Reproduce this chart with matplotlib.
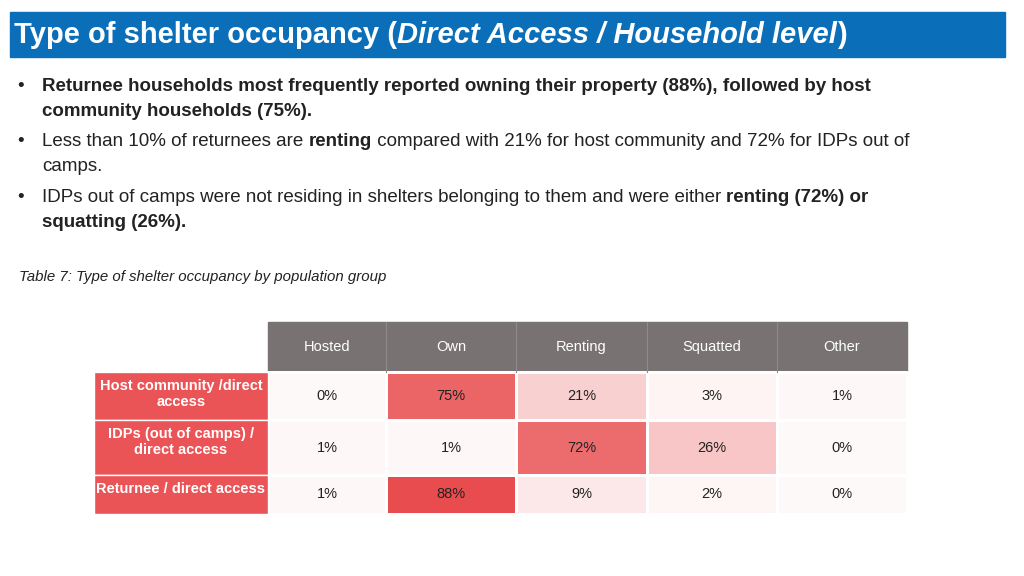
import numpy as np
import matplotlib.pyplot as plt
from matplotlib.colors import LinearSegmentedColormap

columns = ["Hosted", "Own", "Renting", "Squatted", "Other"]
rows = ["Host community /direct\naccess", "IDPs (out of camps) /\ndirect access", "Returnee / direct access"]
values = np.array([[0, 75, 21, 3, 1],
                   [1, 1, 72, 26, 0],
                   [1, 88, 9, 2, 0]])

col_edges = [268, 386, 516, 647, 777, 907]
row_edges = [372, 420, 475, 514]

bullets = [
    [[("Returnee households most frequently reported owning their property (88%), followed by host", True)],
     [("community households (75%).", True)]],
    [[("Less than 10% of returnees are ", False), ("renting", True),
      (" compared with 21% for host community and 72% for IDPs out of", False)],
     [("camps.", False)]],
    [[("IDPs out of camps were not residing in shelters belonging to them and were either ", False),
      ("renting (72%) or", True)],
     [("squatting (26%).", True)]],
]
bullet_y = [86, 141, 197]

fig = plt.figure(figsize=(10.24, 5.76), dpi=100)
ax = fig.add_axes([0, 0, 1, 1])
ax.set_xlim(0, 1024)
ax.set_ylim(576, 0)
ax.axis("off")
fs = "Liberation Sans"

# title bar
ax.add_patch(plt.Rectangle((10, 12), 995, 45, color="#0A6EB8"))
t = ax.text(14, 43, "Type of shelter occupancy (", color="white", fontsize=21,
            fontweight="bold", va="baseline", family=fs)
fig.canvas.draw()
r = fig.canvas.get_renderer()
inv = ax.transData.inverted()

def right_of(txt):
    bb = txt.get_window_extent(r)
    return inv.transform((bb.x1, bb.y0))[0]

x = right_of(t)
t = ax.text(x, 43, "Direct Access / Household level", color="white", fontsize=21,
            fontweight="bold", style="italic", va="baseline", family=fs)
ax.text(right_of(t), 43, ")", color="white", fontsize=21, fontweight="bold",
        va="baseline", family=fs)

for lines, y0 in zip(bullets, bullet_y):
    ax.text(17, y0 + 5, "•", fontsize=13.5, va="baseline", family=fs, color="#222222")
    for li, segs in enumerate(lines):
        x = 42
        for s, b in segs:
            t = ax.text(x, y0 + 5 + li * 25, s, fontsize=13.5, va="baseline", family=fs,
                        fontweight="bold" if b else "normal", color="#222222")
            x = right_of(t)

ax.text(19, 277, "Table 7: Type of shelter occupancy by population group", fontsize=10.8,
        style="italic", va="center", family=fs, color="#222222")

# header
ax.add_patch(plt.Rectangle((268, 322), 639, 50, color="#787372"))
for i, c in enumerate(columns):
    ax.text((col_edges[i] + col_edges[i + 1]) / 2, 347, c, color="white", fontsize=10.5,
            ha="center", va="center", family=fs)
    if i:
        ax.plot([col_edges[i]] * 2, [322, 372], color="#8e8a89", lw=0.8)

cmap = LinearSegmentedColormap.from_list("r", ["#FFFFFF", "#E84C4E"])
ax.pcolormesh(col_edges, row_edges, values, cmap=cmap, vmin=-3, vmax=88,
              edgecolor="white", linewidth=1)
for i in range(3):
    cy = (row_edges[i] + row_edges[i + 1]) / 2
    for j in range(5):
        ax.text((col_edges[j] + col_edges[j + 1]) / 2, cy, f"{values[i, j]}%",
                fontsize=10.5, ha="center", va="center", family=fs, color="#222222")
    ax.add_patch(plt.Rectangle((94, row_edges[i]), 174, row_edges[i + 1] - row_edges[i],
                               facecolor="#EB5456", edgecolor="white", lw=1))
    ax.text(181, row_edges[i] + 7, rows[i], color="white", fontsize=10.5, fontweight="bold",
            ha="center", va="top", family=fs, linespacing=1.2)

fig.savefig("out.png", dpi=100)
